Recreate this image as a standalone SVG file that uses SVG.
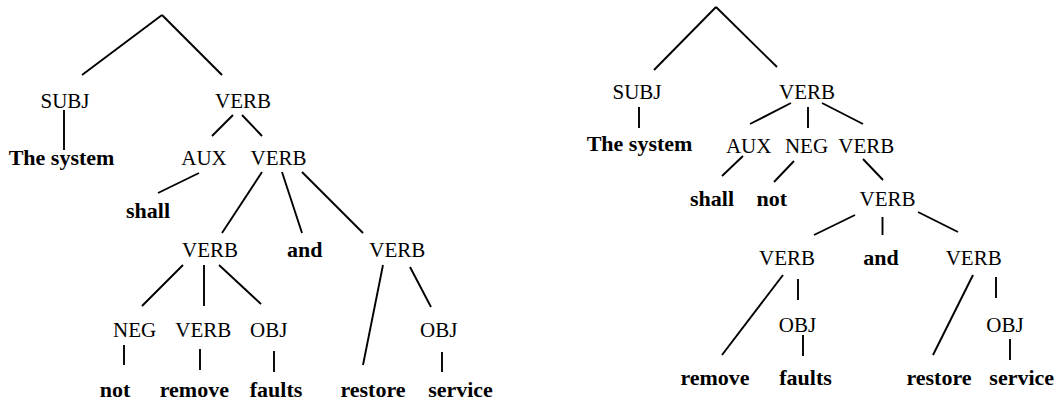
<svg xmlns="http://www.w3.org/2000/svg" width="1059" height="403" viewBox="0 0 1059 403">
<style>
.c line{stroke:#000;stroke-width:1.9;stroke-linecap:butt}
.t{font-family:"Liberation Serif","Times New Roman",serif;font-size:21px;fill:#000;text-anchor:middle}
.w{font-family:"Liberation Serif","Times New Roman",serif;font-size:22px;font-weight:bold;fill:#000;text-anchor:middle}
</style>
<rect width="1059" height="403" fill="#fff"/>
<g id="connectors" class="c">
<line x1="162" y1="15" x2="82" y2="75"/>
<line x1="162" y1="15" x2="222" y2="75"/>
<line x1="64" y1="110" x2="64" y2="150"/>
<line x1="233" y1="115" x2="212" y2="136"/>
<line x1="242" y1="115" x2="262" y2="136"/>
<line x1="199" y1="173" x2="158" y2="193"/>
<line x1="262" y1="172" x2="222" y2="233"/>
<line x1="282" y1="172" x2="302" y2="233"/>
<line x1="302" y1="172" x2="363" y2="233"/>
<line x1="183" y1="265" x2="142" y2="306"/>
<line x1="204" y1="265" x2="204" y2="306"/>
<line x1="219" y1="265" x2="261" y2="304"/>
<line x1="383" y1="265" x2="363" y2="365"/>
<line x1="410" y1="267" x2="431" y2="307"/>
<line x1="124" y1="345" x2="124" y2="365"/>
<line x1="200" y1="349" x2="200" y2="370"/>
<line x1="274" y1="351" x2="274" y2="372"/>
<line x1="442" y1="352" x2="442" y2="372"/>
<line x1="716" y1="7" x2="654" y2="70"/>
<line x1="716" y1="7" x2="777" y2="67"/>
<line x1="639" y1="107" x2="639" y2="128"/>
<line x1="791" y1="103" x2="750" y2="124"/>
<line x1="808" y1="107" x2="808" y2="128"/>
<line x1="822" y1="103" x2="863" y2="124"/>
<line x1="743" y1="156" x2="722" y2="176"/>
<line x1="794" y1="161" x2="774" y2="182"/>
<line x1="863" y1="159" x2="883" y2="180"/>
<line x1="855" y1="215" x2="814" y2="235"/>
<line x1="882.5" y1="217" x2="882.5" y2="235"/>
<line x1="918" y1="212" x2="958" y2="232"/>
<line x1="783" y1="275" x2="722" y2="355"/>
<line x1="798" y1="279" x2="798" y2="300"/>
<line x1="803" y1="335" x2="803" y2="356"/>
<line x1="973" y1="275" x2="933" y2="355"/>
<line x1="996" y1="277" x2="996" y2="298"/>
<line x1="1010" y1="339" x2="1010" y2="360"/>
</g>
<g id="L-subj"><text class="t" x="65" y="108">SUBJ</text></g>
<g id="L-verb1"><text class="t" x="243" y="108">VERB</text></g>
<g id="L-thesystem"><text class="w" x="61.5" y="165">The system</text></g>
<g id="L-aux"><text class="t" x="204" y="165">AUX</text></g>
<g id="L-verb2"><text class="t" x="278.5" y="165">VERB</text></g>
<g id="L-shall"><text class="w" x="148" y="218">shall</text></g>
<g id="L-verb3"><text class="t" x="210" y="257">VERB</text></g>
<g id="L-and"><text class="w" x="304.7" y="257">and</text></g>
<g id="L-verb4"><text class="t" x="397.3" y="257">VERB</text></g>
<g id="L-neg"><text class="t" x="134.7" y="337">NEG</text></g>
<g id="L-verb5"><text class="t" x="203.3" y="337">VERB</text></g>
<g id="L-obj1"><text class="t" x="268.7" y="337">OBJ</text></g>
<g id="L-obj2"><text class="t" x="438.7" y="337">OBJ</text></g>
<g id="L-not"><text class="w" x="115" y="397">not</text></g>
<g id="L-remove"><text class="w" x="194.3" y="397">remove</text></g>
<g id="L-faults"><text class="w" x="276" y="397">faults</text></g>
<g id="L-restore"><text class="w" x="373" y="397">restore</text></g>
<g id="L-service"><text class="w" x="460.5" y="397">service</text></g>
<g id="R-subj"><text class="t" x="637" y="99">SUBJ</text></g>
<g id="R-verb1"><text class="t" x="807" y="99">VERB</text></g>
<g id="R-thesystem"><text class="w" x="639.5" y="151">The system</text></g>
<g id="R-aux"><text class="t" x="748.7" y="153">AUX</text></g>
<g id="R-neg"><text class="t" x="806.5" y="153">NEG</text></g>
<g id="R-verb2"><text class="t" x="866.3" y="153">VERB</text></g>
<g id="R-shall"><text class="w" x="712" y="206">shall</text></g>
<g id="R-not"><text class="w" x="771.7" y="206">not</text></g>
<g id="R-verb3"><text class="t" x="887.5" y="206">VERB</text></g>
<g id="R-verb4"><text class="t" x="787" y="265">VERB</text></g>
<g id="R-and"><text class="w" x="881" y="265">and</text></g>
<g id="R-verb5"><text class="t" x="973.7" y="265">VERB</text></g>
<g id="R-obj1"><text class="t" x="797.5" y="331.7">OBJ</text></g>
<g id="R-obj2"><text class="t" x="1005" y="331.7">OBJ</text></g>
<g id="R-remove"><text class="w" x="715" y="385">remove</text></g>
<g id="R-faults"><text class="w" x="805.5" y="385">faults</text></g>
<g id="R-restore"><text class="w" x="939" y="385">restore</text></g>
<g id="R-service"><text class="w" x="1021.7" y="385">service</text></g>
</svg>
